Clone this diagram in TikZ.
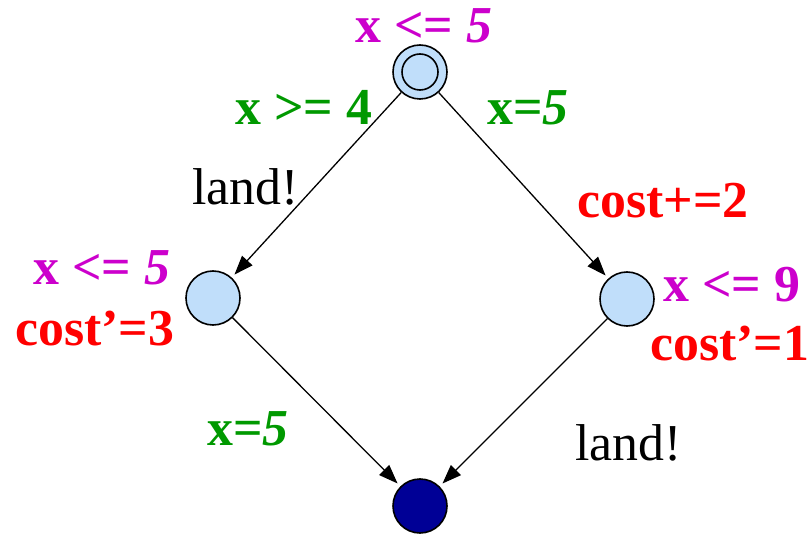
\documentclass[tikz,border=0pt]{standalone}
\usepackage{fontspec}
\setmainfont{Liberation Serif}
\usetikzlibrary{arrows.meta}
\definecolor{cpurple}{RGB}{204,0,204}
\definecolor{cgreen}{RGB}{0,153,0}
\definecolor{cred}{RGB}{255,0,0}
\definecolor{cfill}{RGB}{192,222,250}
\definecolor{cnavy}{RGB}{0,0,150}
\begin{document}
\begin{tikzpicture}[x=1bp,y=-1bp,
  state/.style={circle,draw=black,line width=1.6bp,fill=cfill,minimum size=54bp,inner sep=0pt},
  edge/.style={draw=black,line width=1.3bp,-{Triangle[length=19bp,width=14bp]},shorten >=4bp},
  lbl/.style={anchor=base west,inner sep=0pt,font=\fontsize{52}{60}\selectfont},
  inv/.style={lbl,text=cpurple,font=\fontsize{52}{60}\selectfont\bfseries},
  grd/.style={lbl,text=cgreen,font=\fontsize{52}{60}\selectfont\bfseries},
  cst/.style={lbl,text=cred,font=\fontsize{52}{60}\selectfont\bfseries},
  syn/.style={lbl,text=black}]
\useasboundingbox (0,0) rectangle (811,534);
\node[state] (top) at (420,72) {};
\node[circle,draw=black,line width=1.6bp,minimum size=36bp,inner sep=0pt] (topin) at (420,72) {};
\node[state] (left) at (213,298) {};
\node[state] (right) at (627,299) {};
\node[state,fill=cnavy] (bot) at (420,506) {};
\draw[edge] (top) -- (left);
\draw[edge] (top) -- (right);
\draw[edge] (left) -- (bot);
\draw[edge] (right) -- (bot);
\node[inv] (t1) at (355,43) {x <= \textit{5}};
\node[grd] (g1) at (235,125) {x >= 4};
\node[grd] (g2) at (487,125) {x=\textit{5}};
\node[syn] (s1) at (192,205) {land!};
\node[cst] (c1) at (577,218) {cost+=2};
\node[inv] (t2) at (33,285) {x <= \textit{5}};
\node[cst] (c2) at (15,345) {cost'=3};
\node[inv] (t3) at (663,302) {x <= 9};
\node[cst] (c3) at (650,360) {cost'=1};
\node[grd] (g3) at (207,445) {x=\textit{5}};
\node[syn] (s2) at (575,460) {land!};
\end{tikzpicture}
\end{document}
